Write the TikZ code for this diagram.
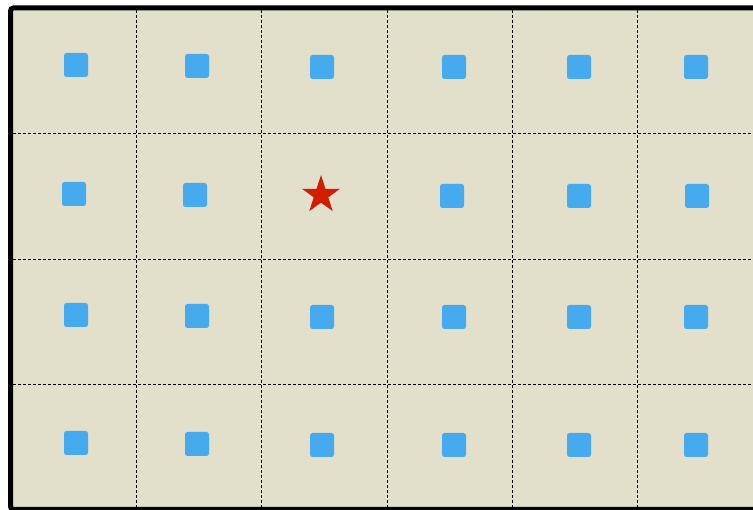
\documentclass[tikz,border=0pt]{standalone}
\usetikzlibrary{shapes.geometric}
\definecolor{bg}{HTML}{E2DFCB}
\definecolor{sq}{HTML}{46AAEE}
\definecolor{stred}{HTML}{D21E00}
\tikzset{
  cellsq/.style={rectangle, rounded corners=2.5pt, fill=sq, draw=none, minimum size=24pt, inner sep=0pt},
  gridline/.style={draw=black, line width=0.9pt, dash pattern=on 3pt off 2pt},
  redstar/.style={star, star points=5, star point ratio=2.618, fill=stred, draw=none, minimum size=40pt, inner sep=0pt},
}
\begin{document}
\begin{tikzpicture}[x=1pt,y=-1pt]
\useasboundingbox (0,0) rectangle (753,510);
\clip (0,0) rectangle (753,510);
\fill[white] (0,0) rectangle (753,510);
\draw[fill=bg, line width=5pt, rounded corners=3pt] (10.5,8) rectangle (790,509.5);
\foreach \x in {136,261.5,387,512.5,637.7}{
  \draw[gridline] (\x,10.5) -- (\x,507);
}
\foreach \y in {133,259,384.5}{
  \draw[gridline] (13,\y) -- (753,\y);
}
% row 1
\node[cellsq] (a1) at (76,65) {};
\node[cellsq] (a2) at (197,66) {};
\node[cellsq] (a3) at (322,67) {};
\node[cellsq] (a4) at (454,67) {};
\node[cellsq] (a5) at (579,67) {};
\node[cellsq] (a6) at (696,67) {};
% row 2
\node[cellsq] (b1) at (74,194) {};
\node[cellsq] (b2) at (195,195) {};
\node[redstar] (b3) at (321,195) {};
\node[cellsq] (b4) at (452,196) {};
\node[cellsq] (b5) at (579,196) {};
\node[cellsq] (b6) at (697,196) {};
% row 3
\node[cellsq] (c1) at (76,315) {};
\node[cellsq] (c2) at (197,316) {};
\node[cellsq] (c3) at (322,317) {};
\node[cellsq] (c4) at (454,317) {};
\node[cellsq] (c5) at (579,317) {};
\node[cellsq] (c6) at (696,317) {};
% row 4
\node[cellsq] (d1) at (76,443) {};
\node[cellsq] (d2) at (197,444) {};
\node[cellsq] (d3) at (322,445) {};
\node[cellsq] (d4) at (454,445) {};
\node[cellsq] (d5) at (579,445) {};
\node[cellsq] (d6) at (696,445) {};
\end{tikzpicture}
\end{document}
